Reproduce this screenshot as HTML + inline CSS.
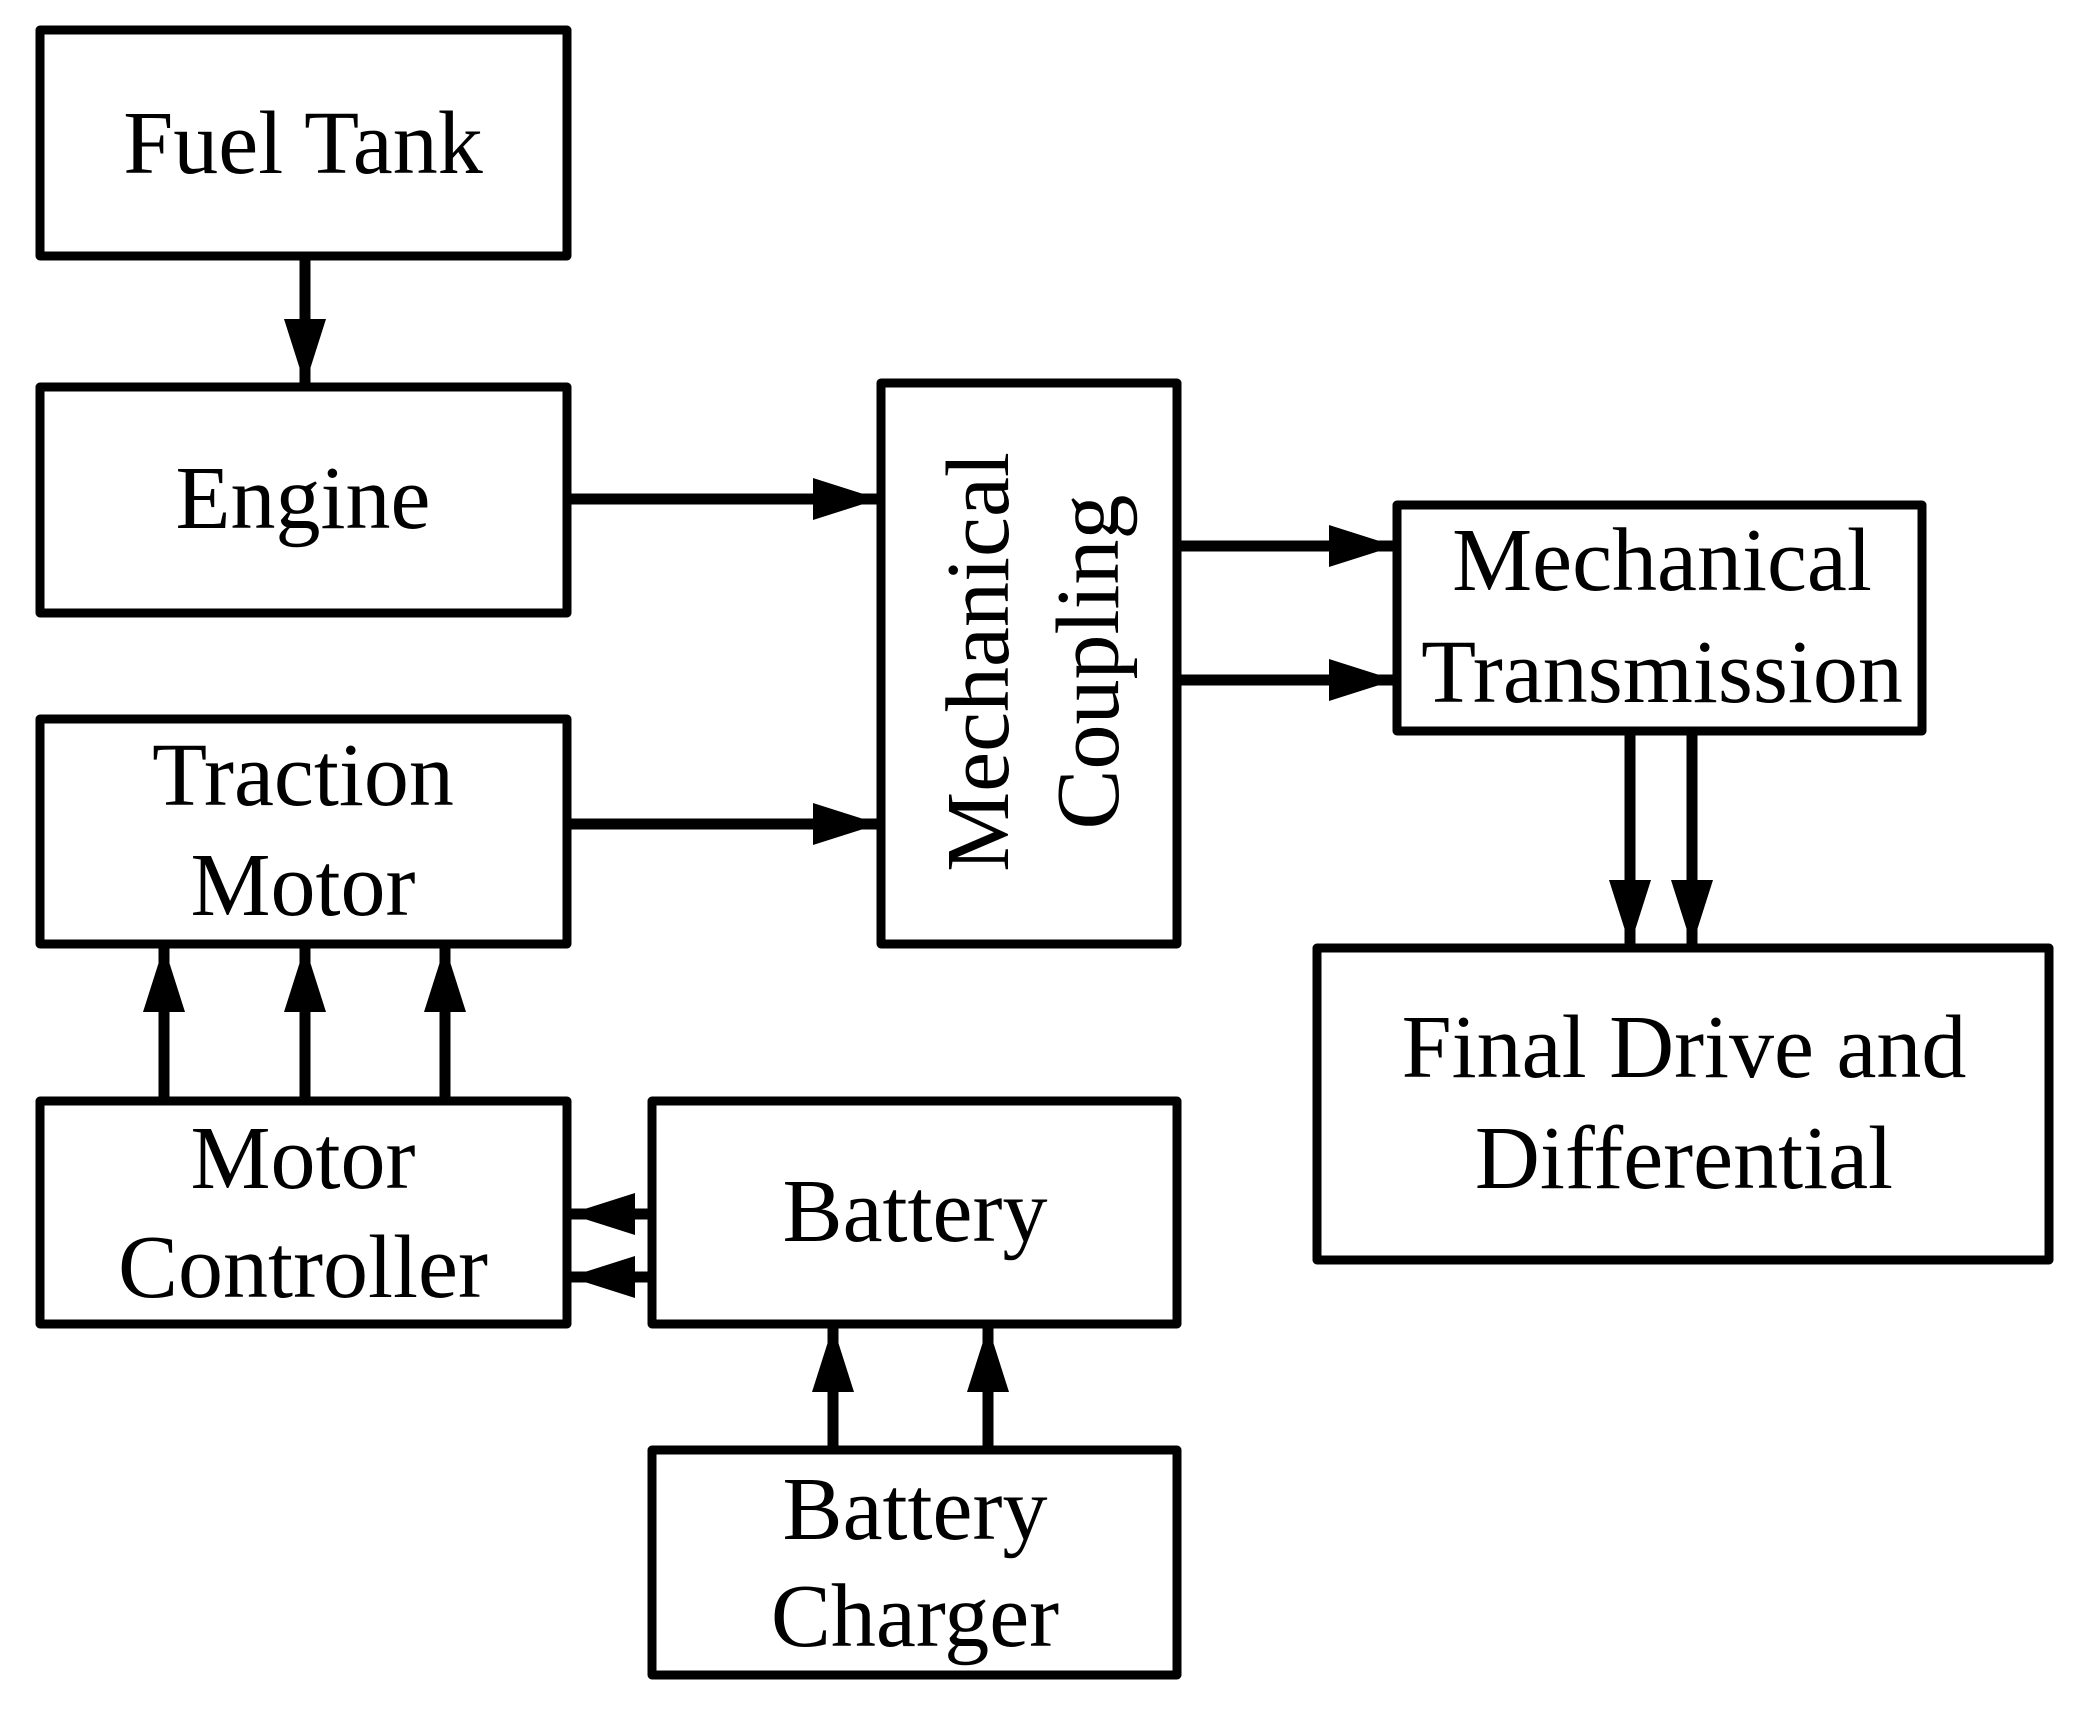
<!DOCTYPE html>
<html><head><style>html,body{margin:0;padding:0;background:#fff}svg{display:block}</style></head>
<body>
<svg width="2079" height="1713" viewBox="0 0 2079 1713" xmlns="http://www.w3.org/2000/svg">
<defs>
<marker id="a" viewBox="0 0 66 42" refX="66" refY="21" markerWidth="66" markerHeight="42" markerUnits="userSpaceOnUse" orient="auto">
<path d="M0,0 L66,21 L0,42 Z" fill="#000"/>
</marker>
</defs>
<g fill="none" stroke="#000" stroke-width="9" stroke-linejoin="round">
<rect x="40" y="30" width="527" height="226"/>
<rect x="40" y="387" width="527" height="226"/>
<rect x="40" y="719" width="527" height="225"/>
<rect x="40" y="1101" width="527" height="223"/>
<rect x="652" y="1101" width="525" height="223"/>
<rect x="652" y="1450" width="525" height="225"/>
<rect x="881" y="383" width="296" height="561"/>
<rect x="1397" y="505" width="525" height="226"/>
<rect x="1317" y="948" width="732" height="312"/>
</g>
<g stroke="#000" stroke-width="11" marker-end="url(#a)" fill="none">
<line x1="305" y1="256" x2="305" y2="385"/>
<line x1="567" y1="499" x2="879" y2="499"/>
<line x1="567" y1="824" x2="879" y2="824"/>
<line x1="1177" y1="546" x2="1395" y2="546"/>
<line x1="1177" y1="680" x2="1395" y2="680"/>
<line x1="1630" y1="731" x2="1630" y2="946"/>
<line x1="1692" y1="731" x2="1692" y2="946"/>
<line x1="164" y1="1101" x2="164" y2="946"/>
<line x1="305" y1="1101" x2="305" y2="946"/>
<line x1="445" y1="1101" x2="445" y2="946"/>
<line x1="652" y1="1214" x2="569" y2="1214"/>
<line x1="652" y1="1277" x2="569" y2="1277"/>
<line x1="833" y1="1450" x2="833" y2="1326"/>
<line x1="988" y1="1450" x2="988" y2="1326"/>
</g>
<g font-family="Liberation Serif, serif" font-size="90" text-anchor="middle" fill="#000">
<text x="303" y="173">Fuel Tank</text>
<text x="303" y="528">Engine</text>
<text x="303" y="805">Traction</text>
<text x="303" y="915">Motor</text>
<text x="303" y="1188">Motor</text>
<text x="303" y="1297">Controller</text>
<text x="915" y="1241">Battery</text>
<text x="915" y="1539">Battery</text>
<text x="915" y="1646">Charger</text>
<text x="1662" y="590">Mechanical</text>
<text x="1662" y="702">Transmission</text>
<text x="1684" y="1077">Final Drive and</text>
<text x="1684" y="1188">Differential</text>
<text transform="translate(1008,662) rotate(-90)" x="0" y="0">Mechanical</text>
<text transform="translate(1118,662) rotate(-90)" x="0" y="0">Coupling</text>
</g>
</svg>
</body></html>
